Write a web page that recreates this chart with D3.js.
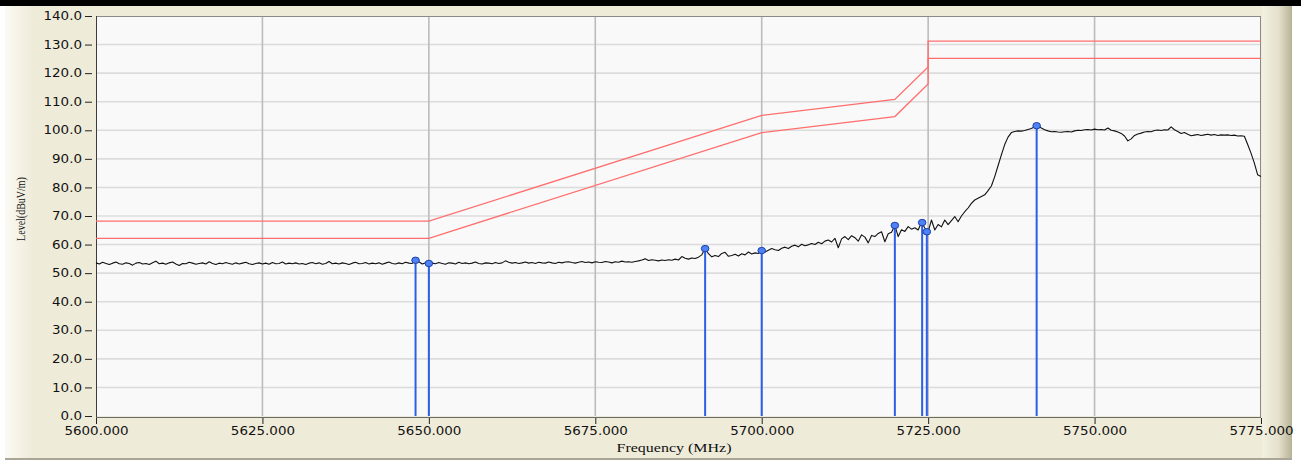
<!DOCTYPE html>
<html>
<head>
<meta charset="utf-8">
<script src="https://cdn.jsdelivr.net/npm/d3@7"></script>
<style>
  html, body { margin: 0; padding: 0; background: #ffffff; }
  svg { display: block; }
</style>
</head>
<body>
<div id="chart"></div>
<script>
// ---------- data ----------
const xTicks = [5600, 5625, 5650, 5675, 5700, 5725, 5750, 5775];
const yTicks = [0, 10, 20, 30, 40, 50, 60, 70, 80, 90, 100, 110, 120, 130, 140];

// measured trace (dBuV/m), sweep starts at 5600 MHz, one point every 0.5 MHz
const traceStartMHz = 5600;
const traceStepMHz = 0.5;
const traceLevels = [
  53.6,53.2,53.8,53.4,53.0,53.5,53.9,53.3,53.1,53.6, 53.4,52.8,53.5,53.7,53.2,53.4,53.0,53.6,54.2,53.3,
  53.5,53.1,53.6,53.9,53.2,52.7,53.4,53.3,53.8,53.5, 53.1,53.4,53.6,53.2,54.0,53.4,53.0,53.5,53.3,53.7,
  53.4,53.1,53.6,53.2,53.5,53.8,53.3,53.0,53.4,53.6, 53.2,53.5,53.1,53.7,53.3,53.4,53.9,53.2,53.5,53.3,
  53.6,53.2,53.4,53.0,53.5,53.7,53.3,53.6,53.1,53.4, 54.1,53.3,53.5,53.2,53.6,53.4,53.0,53.5,53.8,53.3,
  53.4,53.7,53.2,53.5,53.3,53.6,53.1,53.5,53.9,53.4, 53.2,53.6,53.3,53.8,53.5,53.4,54.5,54.0,53.2,53.6,
  53.4,53.5,53.3,53.7,53.4,53.1,53.6,53.5,53.2,53.8, 53.4,53.6,53.3,53.5,53.9,53.4,53.2,53.6,53.5,53.3,
  53.7,53.4,53.6,54.3,53.8,53.5,53.7,53.4,53.6,53.9, 53.5,53.7,53.4,53.8,53.6,53.5,53.9,53.6,53.4,53.8,
  53.6,53.9,54.0,53.7,53.5,53.8,54.1,53.7,53.9,53.6, 54.0,53.8,53.7,54.1,53.9,53.6,54.0,53.8,54.2,53.9,
  54.0,53.8,54.1,54.3,54.6,55.0,54.4,54.7,54.5,54.3, 54.6,54.4,54.7,54.5,54.9,54.6,55.8,55.2,54.9,55.3,
  55.1,55.6,56.4,58.6,56.8,55.7,56.2,55.8,56.9,57.3, 55.9,56.2,56.6,56.0,56.8,56.4,57.4,56.7,57.1,56.9,
  57.9,57.4,58.0,58.6,58.2,57.9,58.7,59.1,58.6,59.4, 59.8,59.2,60.1,59.6,59.9,60.4,60.0,60.8,60.3,61.2,
  61.6,60.9,62.2,58.9,62.0,62.8,61.7,63.1,62.4,61.2, 63.4,62.6,60.6,63.2,62.8,63.9,64.5,61.0,63.8,64.3,
  66.7,62.8,65.2,64.6,66.3,65.4,65.9,65.1,67.7,65.8, 64.5,68.6,65.1,67.0,66.2,68.6,67.0,68.4,69.8,68.0,
  70.0,71.5,72.8,74.4,75.6,76.2,76.8,77.4,78.9,80.5, 83.8,87.6,91.4,95.0,97.6,99.2,99.6,99.8,99.7,99.9,
  100.3,100.6,101.2,101.6,100.8,100.2,99.8,99.5,99.6,99.4, 99.3,99.5,99.6,99.4,99.8,100.0,99.9,100.2,100.3,100.1,
  100.4,100.2,100.3,100.1,100.8,100.0,99.8,99.4,98.9,98.0, 96.3,97.0,98.2,98.7,99.0,99.4,99.6,99.5,99.9,100.1,
  99.9,100.2,100.1,101.2,100.2,99.6,98.9,99.2,98.6,98.1, 98.3,98.5,98.2,98.4,98.6,98.3,98.5,98.2,98.4,98.3,
  98.4,98.2,98.3,98.0,98.1,97.9,95.0,92.0,88.5,84.4,83.8
];

// limit lines [MHz, dBuV/m]
const limitUpper = [[5600,68.2],[5650,68.2],[5700,105.2],[5720,110.8],[5725,122.2],[5725,131.2],[5775,131.2]];
const limitLower = [[5600,62.2],[5650,62.2],[5700,99.2],[5720,104.8],[5725,116.2],[5725,125.2],[5775,125.2]];

// peak markers [MHz, dBuV/m]
const markerFreqs  = [5648.0, 5650.0, 5691.5, 5700.0, 5720.0, 5724.1, 5724.8, 5741.3];
const markerLevels = [54.5,   53.4,   58.6,   57.9,   66.7,   67.7,   64.5,   101.6];

// ---------- layout ----------
const W = 1301, H = 461;
const plot = { left: 96, right: 1261, top: 16, bottom: 416 };
const sx = 1.17; // horizontal stretch of the original rendering

const svg = d3.select("#chart").append("svg").attr("width", W).attr("height", H);
const defs = svg.append("defs");

const gl = defs.append("linearGradient").attr("id", "gLeft").attr("x1", 0).attr("x2", 1).attr("y1", 0).attr("y2", 0);
gl.append("stop").attr("offset", 0).attr("stop-color", "#fbfaf3");
gl.append("stop").attr("offset", 1).attr("stop-color", "#efebd9");
const gr = defs.append("linearGradient").attr("id", "gRight").attr("x1", 0).attr("x2", 1).attr("y1", 0).attr("y2", 0);
gr.append("stop").attr("offset", 0).attr("stop-color", "#f4f1e3");
gr.append("stop").attr("offset", 0.55).attr("stop-color", "#e4e0cb");
gr.append("stop").attr("offset", 1).attr("stop-color", "#b7b398");

// page background
svg.append("rect").attr("x", 0).attr("y", 0).attr("width", W).attr("height", H).attr("fill", "#ffffff");
svg.append("rect").attr("x", 5).attr("y", 6).attr("width", 1287).attr("height", 452).attr("fill", "#efebd9");
svg.append("rect").attr("x", 5).attr("y", 6).attr("width", 28).attr("height", 452).attr("fill", "url(#gLeft)");
svg.append("rect").attr("x", 1262).attr("y", 6).attr("width", 30).attr("height", 452).attr("fill", "url(#gRight)");
svg.append("rect").attr("x", 0).attr("y", 0).attr("width", W).attr("height", 6).attr("fill", "#000000");
svg.append("rect").attr("x", 5).attr("y", 458).attr("width", 1287).attr("height", 2).attr("fill", "#a9a697");

// scales
const x = d3.scaleLinear().domain([5600, 5775]).range([plot.left, plot.right]);
const y = d3.scaleLinear().domain([0, 140]).range([plot.bottom, plot.top]);

// plot background
svg.append("rect")
  .attr("x", plot.left).attr("y", plot.top)
  .attr("width", plot.right - plot.left).attr("height", plot.bottom - plot.top)
  .attr("fill", "#f9f9f9");

// grid
svg.append("g").selectAll("line").data(yTicks.filter(d => d > 0 && d < 140)).join("line")
  .attr("x1", plot.left).attr("x2", plot.right)
  .attr("y1", d => y(d)).attr("y2", d => y(d))
  .attr("stroke", "#dcdcdc").attr("stroke-width", 1.6);
svg.append("g").selectAll("line").data(xTicks.filter(d => d > 5600 && d < 5775)).join("line")
  .attr("x1", d => x(d)).attr("x2", d => x(d))
  .attr("y1", plot.top).attr("y2", plot.bottom)
  .attr("stroke", "#bcbcbc").attr("stroke-width", 1.6);

// frame
svg.append("rect")
  .attr("x", plot.left + 0.5).attr("y", plot.top + 0.5)
  .attr("width", plot.right - plot.left - 1).attr("height", plot.bottom - plot.top + 1)
  .attr("fill", "none").attr("stroke", "#8a8a8a").attr("stroke-width", 1);
svg.append("line").attr("x1", plot.left + 0.5).attr("x2", plot.left + 0.5)
  .attr("y1", plot.top).attr("y2", plot.bottom + 2).attr("stroke", "#3c3c3c");
svg.append("line").attr("x1", plot.left).attr("x2", plot.right)
  .attr("y1", plot.bottom + 1.5).attr("y2", plot.bottom + 1.5).attr("stroke", "#6a6a6a");

// limit lines
const line = d3.line().x(d => x(d[0])).y(d => y(d[1]));
[limitUpper, limitLower].forEach(L => {
  svg.append("path").datum(L).attr("d", line)
    .attr("fill", "none").attr("stroke", "#ff6e6e").attr("stroke-width", 1.3);
});

// trace
const traceData = traceLevels.map((v, i) => [traceStartMHz + i * traceStepMHz, v]);
svg.append("path").datum(traceData).attr("d", line)
  .attr("fill", "none").attr("stroke", "#111111").attr("stroke-width", 1.1)
  .attr("stroke-linejoin", "round");

// markers
const markers = markerFreqs.map((f, i) => ({ f, v: markerLevels[i] }));
const mg = svg.append("g");
mg.selectAll("line").data(markers).join("line")
  .attr("x1", d => x(d.f)).attr("x2", d => x(d.f))
  .attr("y1", y(0)).attr("y2", d => y(d.v))
  .attr("stroke", "#2a5fe6").attr("stroke-width", 2);
mg.selectAll("ellipse").data(markers).join("ellipse")
  .attr("cx", d => x(d.f)).attr("cy", d => y(d.v))
  .attr("rx", 3.8).attr("ry", 3.2)
  .attr("fill", "#4f82f2").attr("stroke", "#1c3fae").attr("stroke-width", 1);

// axes
const fontTick = "'DejaVu Sans', Verdana, sans-serif";
const yAxis = svg.append("g").attr("transform", `translate(${plot.left - 4},0)`)
  .call(d3.axisLeft(y).tickValues(yTicks).tickFormat(d => d.toFixed(1)).tickSize(7).tickPadding(3));
yAxis.select(".domain").remove();
yAxis.selectAll(".tick line").attr("stroke", "#222").attr("stroke-width", 1);
yAxis.selectAll(".tick text")
  .attr("font-family", fontTick).attr("font-size", 11.5).attr("fill", "#111")
  .attr("x", -10 / sx).attr("transform", `scale(${sx},1)`);

const xAxis = svg.append("g").attr("transform", `translate(0,${plot.bottom + 2})`)
  .call(d3.axisBottom(x).tickValues(xTicks).tickFormat(d => d.toFixed(3)).tickSize(6).tickPadding(3));
xAxis.select(".domain").remove();
xAxis.selectAll(".tick line").attr("stroke", "#222").attr("stroke-width", 1);
xAxis.selectAll(".tick text")
  .attr("font-family", fontTick).attr("font-size", 11.5).attr("fill", "#111")
  .attr("transform", `scale(${sx},1)`);

// axis titles
svg.append("text")
  .attr("transform", `translate(674,452) scale(1.28,1)`)
  .attr("text-anchor", "middle")
  .attr("font-family", "'Liberation Serif', 'Times New Roman', serif")
  .attr("font-size", 12.5).attr("fill", "#111")
  .text("Frequency (MHz)");
svg.append("text")
  .attr("transform", `translate(25,209) scale(1.2,1) rotate(-90)`)
  .attr("text-anchor", "middle")
  .attr("font-family", "'Liberation Serif', 'Times New Roman', serif")
  .attr("font-size", 10).attr("fill", "#111")
  .text("Level(dBuV/m)");
</script>
</body>
</html>
